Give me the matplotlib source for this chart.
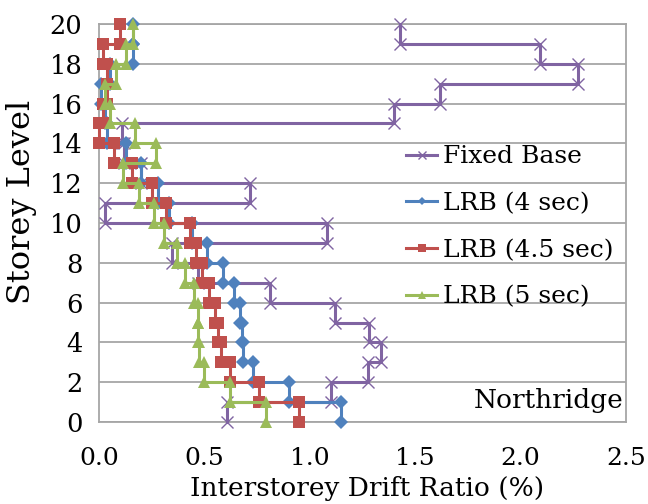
import numpy as np
import matplotlib
matplotlib.use("Agg")
import matplotlib.pyplot as plt

storeys = np.arange(1, 21)
fixed_base = [0.605, 1.10, 1.277, 1.34, 1.28, 1.12, 0.81, 0.47, 0.345, 1.08,
              0.03, 0.716, 0.20, 0.12, 0.108, 1.40, 1.62, 2.27, 2.09, 1.428]
lrb_4 = [1.15, 0.90, 0.73, 0.685, 0.68, 0.67, 0.64, 0.59, 0.51, 0.44,
         0.33, 0.28, 0.20, 0.13, 0.04, 0.03, 0.01, 0.05, 0.16, 0.16]
lrb_45 = [0.95, 0.76, 0.62, 0.58, 0.565, 0.55, 0.52, 0.49, 0.46, 0.43,
          0.32, 0.25, 0.155, 0.07, 0.00, 0.02, 0.04, 0.04, 0.02, 0.10]
lrb_5 = [0.79, 0.62, 0.50, 0.475, 0.47, 0.47, 0.45, 0.41, 0.37, 0.31,
         0.26, 0.19, 0.115, 0.27, 0.17, 0.05, 0.03, 0.08, 0.13, 0.16]
series_names = ["Fixed Base", "LRB (4 sec)", "LRB (4.5 sec)", "LRB (5 sec)"]
x_ticks = [0.0, 0.5, 1.0, 1.5, 2.0, 2.5]
y_ticks = list(range(0, 21, 2))

plt.rcParams['font.family'] = ['DejaVu Serif']
FS_XTICK = 18
FS_YTICK = 18.5
FS_XLAB = 19
FS_YLAB = 23
FS_LEG = 18
FS_NOTE = 19

fig = plt.figure(figsize=(6.48, 5.04), dpi=100)
ax = fig.add_axes([99/648, 1-422/504, (626-99)/648, (422-24)/504])

def steps(vals):
    y = np.column_stack([storeys - 1, storeys]).ravel()
    x = np.repeat(np.asarray(vals, dtype=float), 2)
    return x, y

styles = [
    dict(color="#8064A2", marker="x", ms=8, mew=1.0),
    dict(color="#4F81BD", marker="D", ms=7, mew=0),
    dict(color="#C0504D", marker="s", ms=8.5, mew=0),
    dict(color="#9BBB59", marker="^", ms=9, mew=0),
]
for vals, name, st in zip([fixed_base, lrb_4, lrb_45, lrb_5], series_names, styles):
    x, y = steps(vals)
    ax.plot(x, y, lw=2.2, color=st["color"], marker=st["marker"], ms=st["ms"],
            mew=st["mew"], mec=st["color"], mfc=st["color"], label=name,
            solid_joinstyle="miter", clip_on=False, zorder=3)

ax.set_xlim(0, 2.5)
ax.set_ylim(0, 20)
ax.set_xticks(x_ticks)
ax.set_xticklabels([f"{t:.1f}" for t in x_ticks], fontsize=FS_XTICK)
ax.set_yticks(y_ticks)
ax.set_yticklabels([str(t) for t in y_ticks], fontsize=FS_YTICK)
ax.tick_params(length=0)
ax.tick_params(axis='y', pad=12)
ax.tick_params(axis='x', pad=18)
ax.yaxis.grid(True, color="#A6A6A6", lw=1.3)
ax.set_axisbelow(True)
for s in ax.spines.values():
    s.set_color("#A6A6A6")
    s.set_linewidth(1.3)

ax.set_xlabel("Interstorey Drift Ratio (%)", fontsize=FS_XLAB)
ax.xaxis.set_label_coords(0.508, -0.136)
ax.set_ylabel("Storey Level", fontsize=FS_YLAB)
ax.yaxis.set_label_coords(-0.118, 0.553)

leg = ax.legend(loc="upper left", bbox_to_anchor=(0.5636, 0.72), frameon=False,
                fontsize=FS_LEG, handlelength=1.24, handletextpad=0.25,
                labelspacing=0.95, markerscale=0.65, borderaxespad=0)

ax.text(0.995, 0.055, "Northridge", transform=ax.transAxes, ha="right",
        va="center", fontsize=FS_NOTE)

fig.savefig("out.png", dpi=100)
